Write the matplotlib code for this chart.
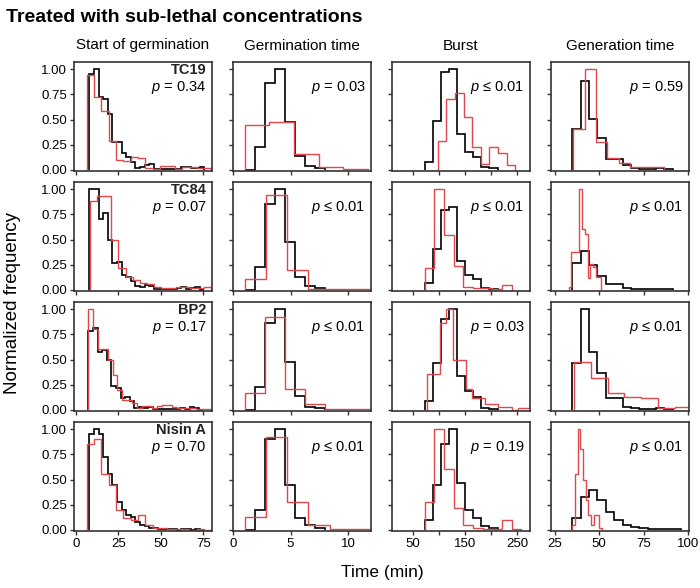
import numpy as np
import matplotlib
matplotlib.use("Agg")
import matplotlib.pyplot as plt

plt.rcParams['font.family'] = ['Liberation Sans', 'DejaVu Sans']
plt.rcParams['mathtext.fontset'] = 'custom'
plt.rcParams['mathtext.it'] = 'Liberation Sans:italic'
plt.rcParams['mathtext.rm'] = 'Liberation Sans'

# panel labels
treatments = ["TC19", "TC84", "BP2", "Nisin A"]
columns = ["Start of germination", "Germination time", "Burst", "Generation time"]
p_texts = [["= 0.34", "= 0.03", "≤ 0.01", "= 0.59"],
           ["= 0.07", "≤ 0.01", "≤ 0.01", "≤ 0.01"],
           ["= 0.17", "≤ 0.01", "= 0.03", "≤ 0.01"],
           ["= 0.70", "≤ 0.01", "= 0.19", "≤ 0.01"]]

# Start of germination (min): bin start, bin width, normalized heights per row
sog_black_start = [8.0, 8.0, 7.5, 8.0]
sog_black_width = [2.7, 2.7, 2.7, 2.7]
sog_black = [
    [0.95, 1.0, 0.72, 0.70, 0.55, 0.28, 0.28, 0.17, 0.13, 0.08, 0.02, 0.03, 0.05, 0.06, 0.01,
     0.01, 0.01, 0.01, 0.01, 0.01, 0.03, 0.03, 0.02, 0.02, 0.03],
    [1.0, 1.0, 0.70, 0.76, 0.50, 0.27, 0.28, 0.15, 0.13, 0.09, 0.04, 0.03, 0.05, 0.04, 0.01,
     0.01, 0.01, 0.01, 0.01, 0.02, 0.03, 0.01, 0.02, 0.03, 0.0],
    [0.78, 0.81, 0.57, 0.59, 0.50, 0.24, 0.22, 0.12, 0.13, 0.09, 0.02, 0.03, 0.02, 0.03, 0.01,
     0.01, 0.01, 0.01, 0.01, 0.01, 0.02, 0.01, 0.03, 0.02, 0.0],
    [0.95, 1.0, 0.95, 0.72, 0.55, 0.45, 0.28, 0.20, 0.15, 0.13, 0.08, 0.05, 0.04, 0.02, 0.02,
     0.01, 0.01, 0.01, 0.01, 0.0, 0.01, 0.01, 0.0, 0.01, 0.0],
]
sog_red_start = [6.5, 8.3, 7.1, 6.5]
sog_red_width = [4.3, 4.2, 2.9, 4.3]
sog_red = [
    [0.94, 0.72, 0.58, 0.29, 0.10, 0.09, 0.13, 0.12, 0.02, 0.01, 0.04, 0.04, 0.01, 0.03, 0.03, 0.02, 0.02],
    [0.88, 0.93, 0.93, 0.50, 0.22, 0.13, 0.10, 0.07, 0.06, 0.03, 0.02, 0.02, 0.03, 0.03, 0.02, 0.02, 0.03],
    [1.0, 0.80, 0.60, 0.60, 0.50, 0.35, 0.20, 0.10, 0.10, 0.07, 0.02, 0.04, 0.04, 0.02, 0.04, 0.05,
     0.05, 0.03, 0.02, 0.02, 0.02, 0.02, 0.01, 0.01, 0.01],
    [0.85, 0.90, 0.55, 0.45, 0.20, 0.12, 0.10, 0.15, 0.05, 0.02, 0.02, 0.01, 0.01, 0.01, 0.0, 0.01, 0.0],
]

# Germination time (min)
gt_black_start = [1.0, 1.0, 1.0, 1.0]
gt_black_width = [0.87, 0.87, 0.87, 0.87]
gt_black = [
    [0.0, 0.23, 0.86, 1.0, 0.48, 0.14, 0.04, 0.02],
    [0.0, 0.23, 0.85, 1.0, 0.48, 0.13, 0.04, 0.02],
    [0.0, 0.23, 0.86, 1.0, 0.48, 0.14, 0.03, 0.02],
    [0.0, 0.20, 0.90, 1.0, 0.45, 0.12, 0.05, 0.02],
]
gt_red_start = [1.0, 1.0, 1.0, 1.0]
gt_red_width = [2.15, 1.85, 1.75, 1.85]
gt_red = [
    [0.45, 0.48, 0.16, 0.03, 0.01],
    [0.11, 0.94, 0.20, 0.01, 0.005, 0.005],
    [0.17, 0.92, 0.21, 0.06, 0.01, 0.01, 0.005],
    [0.13, 0.92, 0.28, 0.05, 0.01, 0.01],
]

# Burst (min)
bu_black_start = [74, 74, 74, 74]
bu_black_width = [15.4, 15.4, 15.4, 15.4]
bu_black = [
    [0.08, 0.49, 0.97, 1.0, 0.36, 0.18, 0.13, 0.03, 0.02],
    [0.07, 0.41, 0.79, 0.82, 0.29, 0.15, 0.11, 0.02, 0.01],
    [0.09, 0.47, 0.90, 1.0, 0.34, 0.19, 0.13, 0.02, 0.01],
    [0.10, 0.45, 0.85, 1.0, 0.47, 0.20, 0.12, 0.04, 0.02],
]
bu_red_start = [98, 73, 77, 73]
bu_red_width = [16.5, 18.5, 12.5, 18.5]
bu_red = [
    [0.29, 0.70, 0.76, 0.53, 0.23, 0.06, 0.23, 0.17, 0.05],
    [0.22, 1.0, 0.54, 0.24, 0.03, 0.02, 0.02, 0.01, 0.05],
    [0.36, 0.36, 0.86, 1.0, 0.50, 0.50, 0.21, 0.12, 0.12, 0.06, 0.06, 0.03, 0.03, 0.0, 0.02, 0.02],
    [0.28, 1.0, 0.60, 0.22, 0.05, 0.02, 0.01, 0.01, 0.10, 0.01],
]

# Generation time (min)
gen_black_start = [35, 35, 35, 35]
gen_black_width = [4.7, 4.7, 4.7, 4.7]
gen_black = [
    [0.41, 0.88, 0.51, 0.32, 0.11, 0.11, 0.05, 0.02, 0.01, 0.01, 0.02, 0.01],
    [0.27, 0.39, 0.25, 0.14, 0.06, 0.06, 0.02, 0.01, 0.01, 0.01, 0.01, 0.01],
    [0.47, 1.0, 0.57, 0.37, 0.12, 0.12, 0.03, 0.02, 0.01, 0.01, 0.02, 0.01],
    [0.12, 0.33, 0.40, 0.30, 0.18, 0.10, 0.05, 0.03, 0.02, 0.01, 0.01, 0.01, 0.01],
]
gen_red_start = [35.5, 33, 36, 35]
gen_red_width = [6.4, 1.5, 9.4, 1.5]
gen_red = [
    [0.41, 1.0, 0.28, 0.12, 0.07, 0.03, 0.03, 0.03],
    [0.03, 0.38, 0.38, 0.38, 1.0, 0.60, 0.55, 0.12, 0.26, 0.23, 0.13, 0.13],
    [0.48, 0.32, 0.17, 0.13, 0.12, 0.02, 0.03],
    [0.05, 0.55, 1.0, 0.80, 0.50, 0.30, 0.15, 0.05, 0.15, 0.15, 0.02],
]

panels = [
    (sog_black_start, sog_black_width, sog_black, sog_red_start, sog_red_width, sog_red),
    (gt_black_start, gt_black_width, gt_black, gt_red_start, gt_red_width, gt_red),
    (bu_black_start, bu_black_width, bu_black, bu_red_start, bu_red_width, bu_red),
    (gen_black_start, gen_black_width, gen_black, gen_red_start, gen_red_width, gen_red),
]

xlims = [(-1, 80), (0, 12), (10, 275), (23, 100.5)]
xticks = [[0, 25, 50, 75], [0, 5, 10], [50, 100, 150, 200, 250], [25, 50, 75, 100]]
xticklabels = [["0", "25", "50", "75"], ["0", "5", "10"], ["50", "", "150", "", "250"],
               ["25", "50", "75", "100"]]

red = "#e2474b"
dark = "#333333"

W, H = 700, 588
fig = plt.figure(figsize=(7, 5.88), dpi=100)

lefts = [74, 233, 392, 551]
tops = [62, 182, 302, 422]
pw, ph = 138, 109


def edges(start, width, n):
    return start + width * np.arange(n + 1)


for r in range(4):
    for c in range(4):
        ax = fig.add_axes([lefts[c] / W, 1 - (tops[r] + ph) / H, pw / W, ph / H])
        bs, bw, bh, rs, rw, rh = panels[c]
        hb = np.array(bh[r])
        hr = np.array(rh[r])
        ax.stairs(hb, edges(bs[r], bw[r], len(hb)), color="black", lw=1.2, baseline=0)
        ax.stairs(hr, edges(rs[r], rw[r], len(hr)), color=red, lw=1.0, baseline=0)
        ax.set_xlim(*xlims[c])
        ax.set_ylim(-0.01, 1.07)
        ax.set_yticks([0, 0.25, 0.5, 0.75, 1.0])
        if c == 0:
            ax.set_yticklabels(["0.00", "0.25", "0.50", "0.75", "1.00"])
        else:
            ax.set_yticklabels([])
        ax.set_xticks(xticks[c])
        if r == 3:
            ax.set_xticklabels(xticklabels[c])
        else:
            ax.set_xticklabels([])
        for s in ax.spines.values():
            s.set_color(dark)
            s.set_linewidth(1.2)
        ax.tick_params(direction="out", length=3, width=1, colors=dark, labelcolor="black",
                       labelsize=9.5, pad=2)
        if c == 0:
            ax.text(0.96, 0.93, treatments[r], transform=ax.transAxes, ha="right", va="center",
                    fontsize=10.5, fontweight="bold", color="#222222")
        ax.text(0.96, 0.77, r"$p$ " + p_texts[r][c], transform=ax.transAxes, ha="right",
                va="center", fontsize=10.5)
        if r == 0:
            ax.set_title(columns[c], fontsize=11, pad=9)

fig.text(0.008, 0.985, "Treated with sub-lethal concentrations", fontsize=14,
         fontweight="bold", ha="left", va="top")
fig.text(0.018, 1 - 303 / H, "Normalized frequency", rotation=90, fontsize=13.5,
         ha="center", va="center")
fig.text(382 / W, 1 - 573 / H, "Time (min)", fontsize=12.5, ha="center", va="center")

fig.savefig("out.png", dpi=100)
